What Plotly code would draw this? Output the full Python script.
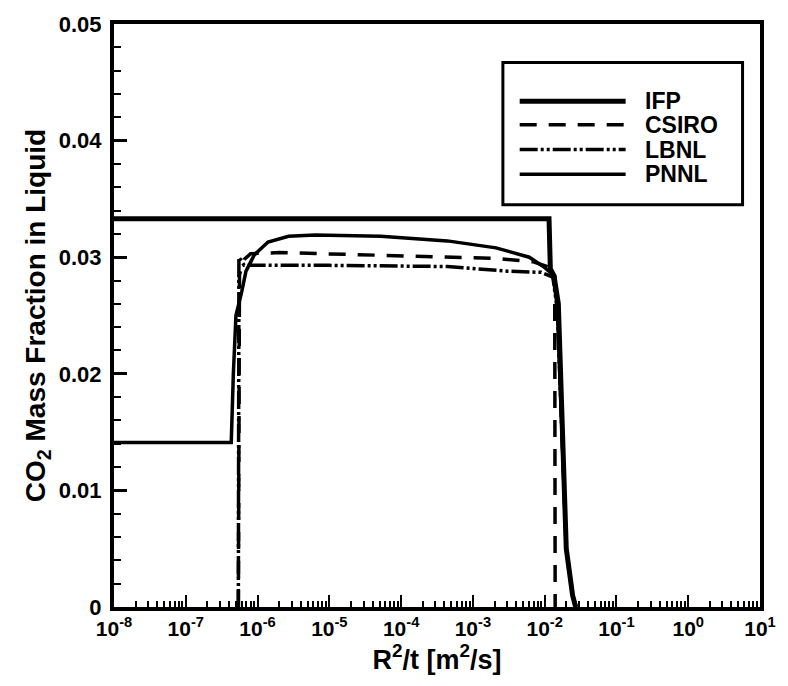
import plotly.graph_objects as go

# ---- data ----
ifp_x = [1e-8, 1.15e-2, 1.2e-2, 1.35e-2, 1.55e-2, 1.75e-2, 2.0e-2, 2.45e-2, 2.7e-2]
ifp_y = [0.0333, 0.0333, 0.0290, 0.0284, 0.0260, 0.0150, 0.0050, 0.0010, 0.0]

csiro_x = [5.4e-7, 5.6e-7, 6.5e-7, 8e-7, 2e-6, 1e-4, 2e-3, 7e-3, 1.2e-2, 1.38e-2, 1.4e-2]
csiro_y = [0.0, 0.0285, 0.0298, 0.0303, 0.0304, 0.0301, 0.0299, 0.0296, 0.0291, 0.0287, 0.0]

lbnl_x = [5.4e-7, 5.5e-7, 6.5e-7, 1e-6, 1e-5, 4.4e-4, 3e-3, 9e-3, 1.3e-2, 1.5e-2, 1.75e-2, 2.0e-2, 2.45e-2, 2.75e-2]
lbnl_y = [0.0, 0.0300, 0.0293, 0.0293, 0.0293, 0.0292, 0.0288, 0.0287, 0.0283, 0.0255, 0.0150, 0.0050, 0.0010, 0.0]

pnnl_x = [1e-8, 4.3e-7, 4.6e-7, 5.0e-7, 6.0e-7, 6.9e-7, 9e-7, 1.4e-6, 2.7e-6, 6.4e-6, 5.2e-5, 4.4e-4,
          2.1e-3, 6.1e-3, 9.6e-3, 1.3e-2, 1.5e-2, 1.75e-2, 2.0e-2, 2.45e-2, 2.7e-2]
pnnl_y = [0.0141, 0.0141, 0.0200, 0.0250, 0.0270, 0.0288, 0.0302, 0.0313, 0.0318, 0.0319, 0.0318, 0.0314,
          0.0308, 0.0300, 0.0292, 0.0285, 0.0258, 0.0150, 0.0050, 0.0010, 0.0]

series_names = ["IFP", "CSIRO", "LBNL", "PNNL"]

x_tick_vals = [10.0 ** k for k in range(-8, 2)]
x_tick_text = ["10<sup>%d</sup>" % k for k in range(-8, 2)]
x_minor_vals = [m * 10.0 ** k for k in range(-8, 1) for m in range(2, 10)]

FONT = "Liberation Sans"

styles = [
    dict(color="black", width=5),
    dict(color="black", width=3.5, dash="17px,12px"),
    dict(color="black", width=3.5, dash="18px,3px,3px,3px,3px,3px"),
    dict(color="black", width=3.5),
]
xs = [ifp_x, csiro_x, lbnl_x, pnnl_x]
ys = [ifp_y, csiro_y, lbnl_y, pnnl_y]

fig = go.Figure()
for name, x, y, st in zip(series_names, xs, ys, styles):
    fig.add_trace(go.Scatter(x=x, y=y, mode="lines", name=name, line=st, showlegend=False))

# ---- hand-drawn legend box (paper coordinates) ----
shapes = [dict(type="rect", xref="paper", yref="paper", x0=0.602, x1=0.973, y0=0.690, y1=0.934,
               line=dict(color="black", width=3), fillcolor="white", layer="above")]
annots = []
leg_y = [0.8677, 0.8270, 0.7847, 0.7423]
for name, st, ly in zip(series_names, styles, leg_y):
    shapes.append(dict(type="line", xref="paper", yref="paper", x0=0.628, x1=0.792, y0=ly, y1=ly,
                       line=st, layer="above"))
    annots.append(dict(text=name, xref="paper", yref="paper", x=0.819, y=ly, xanchor="left",
                       yanchor="middle", showarrow=False,
                       font=dict(family=FONT, size=23, color="black", weight="bold")))

fig.update_layout(
    width=788, height=686,
    margin=dict(l=114, r=22, t=17, b=79),
    paper_bgcolor="white", plot_bgcolor="white",
    font=dict(family=FONT, color="black", size=22, weight="bold"),
    showlegend=False,
    shapes=shapes, annotations=annots,
)

fig.update_xaxes(
    type="log", range=[-8, 1],
    tickmode="array", tickvals=x_tick_vals, ticktext=x_tick_text,
    ticks="inside", ticklen=12, tickwidth=2, tickcolor="black",
    minor=dict(tickmode="array", tickvals=x_minor_vals, ticks="inside",
               ticklen=6, tickwidth=2, tickcolor="black", showgrid=False),
    showline=True, linewidth=4, linecolor="black", mirror=True,
    showgrid=False, zeroline=False,
    tickfont=dict(family=FONT, size=21, weight="bold"),
    title=dict(text="R<sup>2</sup>/t [m<sup>2</sup>/s]",
               font=dict(family=FONT, size=27, weight="bold"), standoff=8),
)
fig.update_yaxes(
    range=[0, 0.05], dtick=0.01, tick0=0,
    ticks="inside", ticklen=13, tickwidth=3, tickcolor="black",
    minor=dict(dtick=0.002, ticks="inside", ticklen=7, tickwidth=2,
               tickcolor="black", showgrid=False),
    showline=True, linewidth=4, linecolor="black", mirror=True,
    showgrid=False, zeroline=False,
    ticklabelstandoff=4,
    tickfont=dict(family=FONT, size=22, weight="bold"),
    title=dict(text="CO<sub>2</sub> Mass Fraction in Liquid",
               font=dict(family=FONT, size=28, weight="bold"), standoff=6),
)

fig.write_html("out.html")
